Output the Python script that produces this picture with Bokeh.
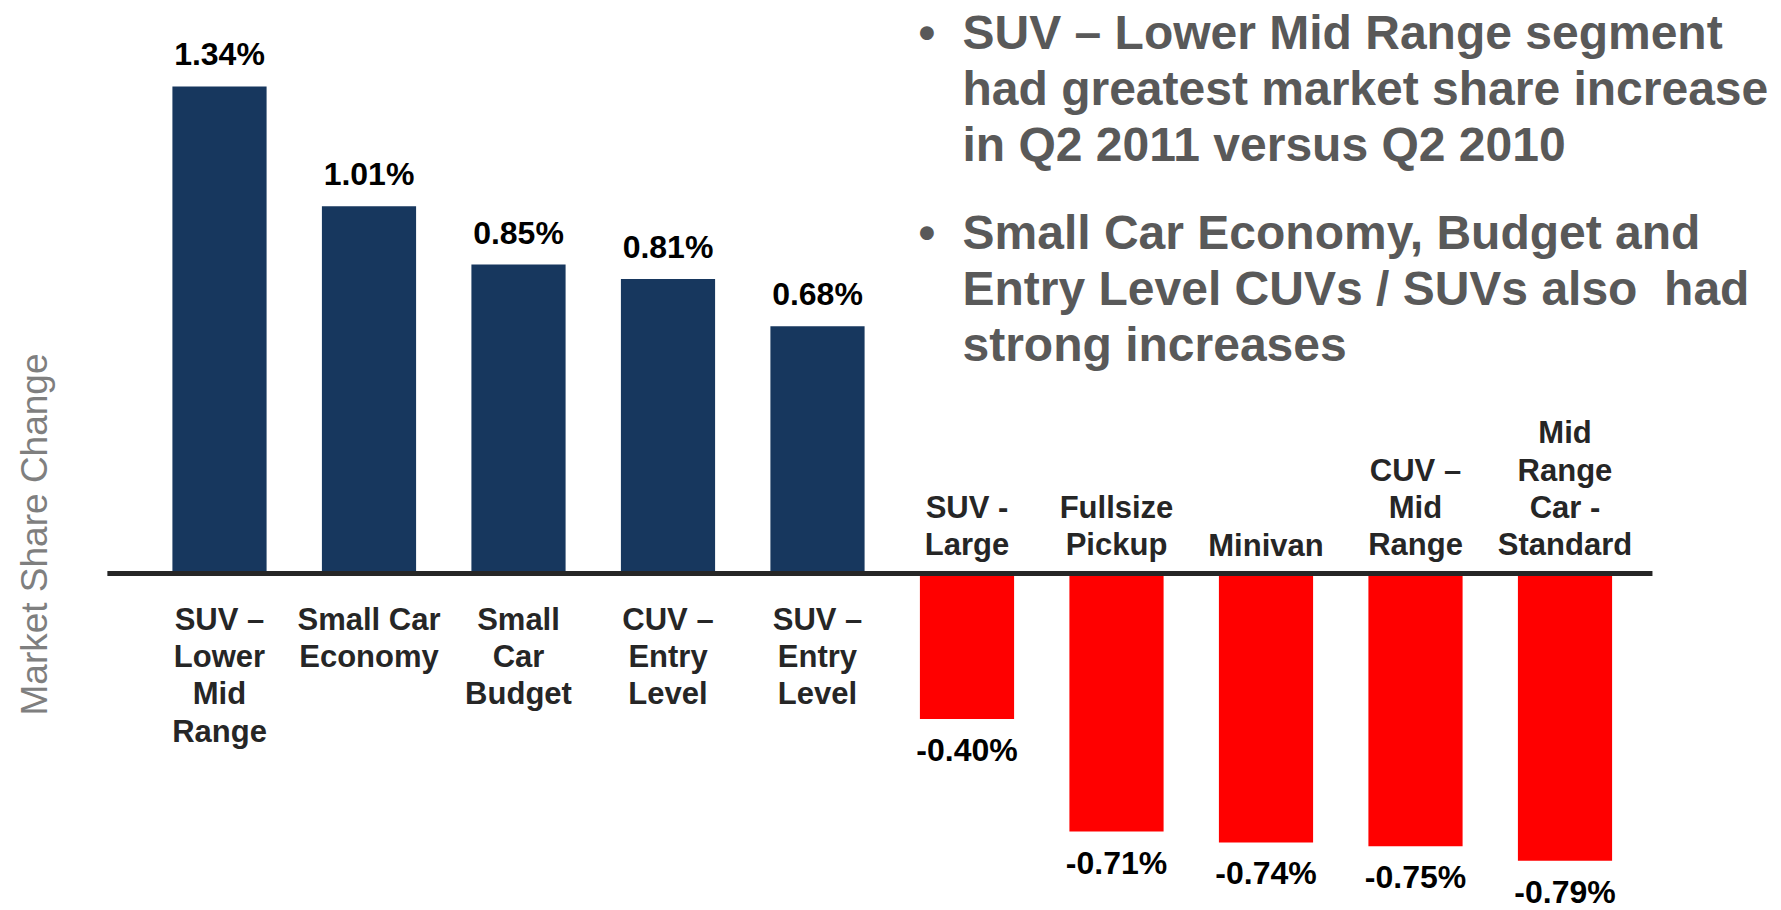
import math
from bokeh.plotting import figure
from bokeh.models import Range1d, Label, ColumnDataSource
from bokeh.embed import file_html
from bokeh.resources import INLINE
from bokeh.core.properties import value

# ---------------- data ----------------
categories = [
    "SUV –\nLower\nMid\nRange",
    "Small Car\nEconomy",
    "Small\nCar\nBudget",
    "CUV –\nEntry\nLevel",
    "SUV –\nEntry\nLevel",
    "SUV -\nLarge",
    "Fullsize\nPickup",
    "Minivan",
    "CUV –\nMid\nRange",
    "Mid\nRange\nCar -\nStandard",
]
changes = [1.34, 1.01, 0.85, 0.81, 0.68, -0.40, -0.71, -0.74, -0.75, -0.79]
bullet_1 = ["SUV – Lower Mid Range segment",
            "had greatest market share increase",
            "in Q2 2011 versus Q2 2010"]
bullet_2 = ["Small Car Economy, Budget and",
            "Entry Level CUVs / SUVs also \u00a0had",
            "strong increases"]
y_title = "Market Share Change"

# ---------------- layout ----------------
W, H = 1773, 908
PX_X = 149.5          # pixels per category step
X0 = 219.0            # pixel x of first bar centre
PX_Y = 363.5          # pixels per 1 percentage point
Y0 = 573.0            # pixel y of the zero line (from top)

def vy(py):           # pixel y (from top) -> data value
    return (Y0 - py) / PX_Y

def vx(px):           # pixel x -> category position
    return (px - X0) / PX_X

FONT_NAME = "Liberation Sans"
FONT = value(FONT_NAME)
NAVY = "#17375E"
RED = "#FF0000"

x_start = vx(0)
y_end = vy(0)
p = figure(width=W, height=H, output_backend="svg", toolbar_location=None,
           x_range=Range1d(x_start, x_start + W / PX_X),
           y_range=Range1d(y_end - H / PX_Y, y_end),
           x_axis_location=None, y_axis_location=None,
           min_border=0, outline_line_color=None,
           background_fill_color="white", border_fill_color="white")
p.xgrid.visible = False
p.ygrid.visible = False

idx = list(range(len(categories)))
colors = [NAVY if v > 0 else RED for v in changes]
labels = [f"{v:.2f}%" for v in changes]

src = ColumnDataSource(dict(x=idx, top=changes, color=colors, lab=labels, cat=categories))
p.vbar(x="x", top="top", bottom=0, width=0.63, fill_color="color",
       line_color=None, source=src)

# zero line
p.segment(x0=[-0.75], y0=[0], x1=[len(categories) - 1 + 0.585], y1=[0],
          line_color="#262626", line_width=5)

pos = [i for i, v in enumerate(changes) if v > 0]
neg = [i for i, v in enumerate(changes) if v <= 0]

pos_src = ColumnDataSource(dict(x=pos, y=[changes[i] for i in pos],
                                lab=[labels[i] for i in pos],
                                cat=[categories[i] for i in pos]))
neg_src = ColumnDataSource(dict(x=neg, y=[changes[i] for i in neg],
                                lab=[labels[i] for i in neg],
                                cat=[categories[i] for i in neg]))

# value labels
p.text(x="x", y="y", text="lab", source=pos_src, y_offset=-32,
       text_align="center", text_baseline="middle", text_font=FONT,
       text_font_style="bold", text_font_size="32px", text_color="black")
p.text(x="x", y="y", text="lab", source=neg_src, y_offset=31,
       text_align="center", text_baseline="middle", text_font=FONT,
       text_font_style="bold", text_font_size="32px", text_color="black")

# category labels
p.text(x="x", y=0, text="cat", source=pos_src, y_offset=28,
       text_align="center", text_baseline="top", text_font=FONT,
       text_font_style="bold", text_font_size="31px", text_color="#262626",
       text_line_height=1.07)
p.text(x="x", y=0, text="cat", source=neg_src, y_offset=-11,
       text_align="center", text_baseline="bottom", text_font=FONT,
       text_font_style="bold", text_font_size="31px", text_color="#262626",
       text_line_height=1.07)

# y axis title
p.add_layout(Label(x=vx(34), y=vy(534), text=y_title, angle=math.pi / 2,
                   text_align="center", text_baseline="middle",
                   text_font=FONT_NAME, text_font_size="37px", text_color="#7f7f7f"))

# bullet text
for start, lines in ((32, bullet_1), (232, bullet_2)):
    p.add_layout(Label(x=vx(918), y=vy(start), text="•", text_align="left",
                       text_baseline="middle", text_font=FONT_NAME,
                       text_font_style="bold", text_font_size="48px",
                       text_color="#595959"))
    for k, line in enumerate(lines):
        p.add_layout(Label(x=vx(962), y=vy(start + 56 * k), text=line,
                           text_align="left", text_baseline="middle",
                           text_font=FONT_NAME, text_font_style="bold",
                           text_font_size="48px", text_color="#595959"))

open("out.html", "w").write(file_html(p, INLINE))
